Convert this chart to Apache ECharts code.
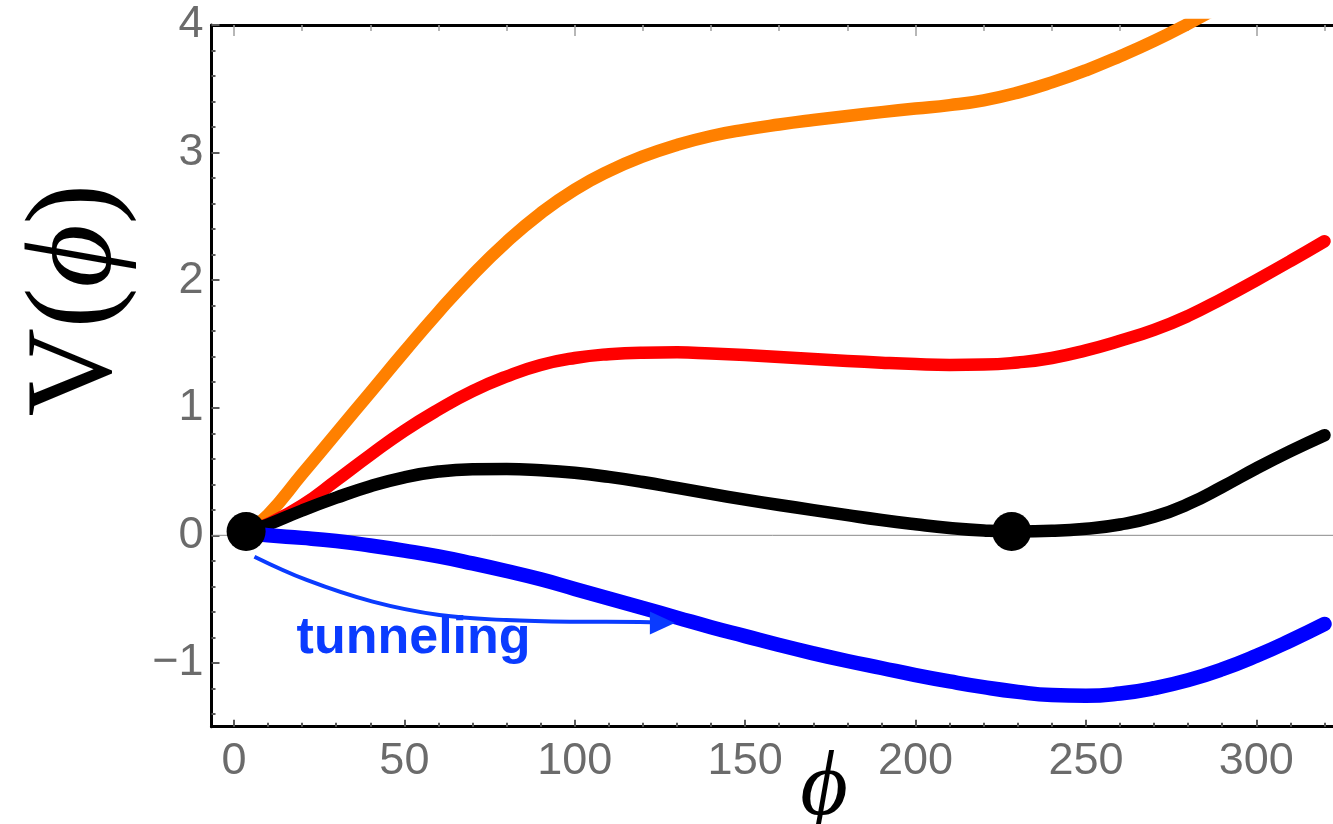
<!DOCTYPE html>
<html>
<head>
<meta charset="utf-8">
<script src="https://cdn.jsdelivr.net/npm/echarts@6/dist/echarts.min.js"></script>
<style>
  html, body { margin: 0; padding: 0; background: #ffffff; }
  #chart { width: 1333px; height: 824px; }
</style>
</head>
<body>
<div id="chart"></div>
<script>
// Potential V(phi) for four parameter choices, sampled every 10 units of phi
const phiGrid = [4, 10, 20, 30, 40, 50, 60, 70, 80, 90, 100, 110, 120, 130, 140, 150, 160, 170, 180, 190, 200, 210, 220, 230, 240, 250, 260, 270, 280, 290, 300, 310, 320];

const orangeV = [0.03, 0.16, 0.48, 0.80, 1.12, 1.44, 1.75, 2.04, 2.30, 2.525, 2.71, 2.855, 2.97, 3.06, 3.13, 3.18, 3.22, 3.255, 3.287, 3.317, 3.345, 3.372, 3.41, 3.47, 3.55, 3.645, 3.755, 3.875, 4.01, 4.155, 4.30];

const redV = [0.03, 0.09, 0.235, 0.43, 0.63, 0.82, 0.985, 1.13, 1.245, 1.335, 1.39, 1.42, 1.432, 1.434, 1.425, 1.413, 1.398, 1.382, 1.367, 1.353, 1.342, 1.336, 1.338, 1.355, 1.39, 1.45, 1.525, 1.61, 1.72, 1.855, 2.00, 2.15, 2.305];

const blackV = [0.03, 0.085, 0.195, 0.295, 0.385, 0.455, 0.50, 0.518, 0.52, 0.51, 0.49, 0.458, 0.418, 0.372, 0.325, 0.28, 0.238, 0.198, 0.158, 0.12, 0.087, 0.058, 0.038, 0.03, 0.035, 0.052, 0.085, 0.145, 0.245, 0.38, 0.525, 0.66, 0.785];

const blueV = [0.02, 0.0, -0.02, -0.045, -0.08, -0.12, -0.165, -0.22, -0.28, -0.345, -0.42, -0.495, -0.57, -0.645, -0.72, -0.79, -0.86, -0.925, -0.985, -1.04, -1.095, -1.145, -1.19, -1.227, -1.252, -1.258, -1.24, -1.198, -1.135, -1.05, -0.945, -0.825, -0.695];

// Vacuum markers (false and true minimum)
const vacuumPhi = [3.55, 228.2];
const vacuumV   = [0.03, 0.03];

// Tunneling arrow path and head
const arrowPhi = [6.0, 21.3, 40.7, 60.3, 79.9, 99.4, 119.1, 125.7];
const arrowV   = [-0.168, -0.350, -0.520, -0.625, -0.664, -0.677, -0.679, -0.688];
const arrowHead = [125.7, -0.688];
const annotationText = 'tunneling';
const annotationAt = [52.7, -0.81];

// Axes
const X_MIN = -6.6, X_MAX = 322.5;
const Y_MIN = -1.5, Y_MAX = 4;
const xMajorTicks = [0, 50, 100, 150, 200, 250, 300];
const xMinorTicks = [0, 10, 20, 30, 40, 50, 60, 70, 80, 90, 100, 110, 120, 130, 140, 150, 160, 170, 180, 190, 200, 210, 220, 230, 240, 250, 260, 270, 280, 290, 300, 310, 320];
const topMajorTicks = [0, 100, 200, 300];
const topMinorTicks = [0, 20, 40, 60, 80, 100, 120, 140, 160, 180, 200, 220, 240, 260, 280, 300, 320];
const yMajorTicks = [-1, 0, 1, 2, 3, 4];
const yMinorTicks = [-1.4, -1.2, -1, -0.8, -0.6, -0.4, -0.2, 0, 0.2, 0.4, 0.6, 0.8, 1, 1.2, 1.4, 1.6, 1.8, 2, 2.2, 2.4, 2.6, 2.8, 3, 3.2, 3.4, 3.6, 3.8, 4];

const zip = (xs, ys) => ys.map((y, i) => [xs[i], y]);

const LABEL_FONT = '"Liberation Sans", Arial, Helvetica, sans-serif';
const SERIF_FONT = '"Liberation Serif", "DejaVu Serif", "Times New Roman", serif';
const TICK_COLOR = '#5a5a5a';
const LABEL_COLOR = '#6b6b6b';
const ANNOT_BLUE = '#0a3bff';

function valueAxis(extra) {
  const base = {
    type: 'value',
    gridIndex: 0,
    splitLine: { show: false },
    axisLine: { show: false, onZero: false },
    axisTick: { show: false },
    axisLabel: { show: false }
  };
  return Object.assign(base, extra);
}

const fmt = v => (v < 0 ? '\u2212' + Math.abs(v) : String(v));

function curve(name, values, color, width) {
  return {
    name: name, type: 'line', z: 2, symbol: 'none', smooth: 0.5, clip: true,
    data: zip(phiGrid, values),
    lineStyle: { color: color, width: width, cap: 'round', join: 'round', opacity: 1 }
  };
}

const chart = echarts.init(document.getElementById('chart'), null, { renderer: 'canvas' });

chart.setOption({
  animation: false,
  backgroundColor: '#ffffff',
  grid: { left: 211.5, right: 0, top: 25, bottom: 97.3, containLabel: false },
  xAxis: [
    valueAxis({
      position: 'bottom', min: X_MIN, max: X_MAX,
      axisLine: { show: true, onZero: false, lineStyle: { color: '#000', width: 3 } },
      axisTick: { show: true, inside: true, length: 7, customValues: xMajorTicks, lineStyle: { color: TICK_COLOR, width: 2 } },
      axisLabel: { show: true, customValues: xMajorTicks, formatter: fmt, color: LABEL_COLOR, fontSize: 45, fontFamily: LABEL_FONT, margin: 12 }
    }),
    valueAxis({
      position: 'bottom', min: X_MIN, max: X_MAX,
      axisTick: { show: true, inside: true, length: 4, customValues: xMinorTicks, lineStyle: { color: TICK_COLOR, width: 2 } }
    }),
    valueAxis({
      position: 'top', min: X_MIN, max: X_MAX,
      axisLine: { show: true, onZero: false, lineStyle: { color: '#000', width: 3 } },
      axisTick: { show: true, inside: true, length: 11, customValues: topMajorTicks, lineStyle: { color: '#a0a0a0', width: 1.5 } }
    }),
    valueAxis({
      position: 'top', min: X_MIN, max: X_MAX,
      axisTick: { show: true, inside: true, length: 6, customValues: topMinorTicks, lineStyle: { color: '#a0a0a0', width: 1.5 } }
    })
  ],
  yAxis: [
    valueAxis({
      position: 'left', min: Y_MIN, max: Y_MAX,
      axisLine: { show: true, onZero: false, lineStyle: { color: '#000', width: 3 } },
      axisTick: { show: true, inside: true, length: 8, customValues: yMajorTicks, lineStyle: { color: TICK_COLOR, width: 2 } },
      axisLabel: { show: true, customValues: yMajorTicks, formatter: fmt, color: LABEL_COLOR, fontSize: 45, fontFamily: LABEL_FONT, margin: 8 }
    }),
    valueAxis({
      position: 'left', min: Y_MIN, max: Y_MAX,
      axisTick: { show: true, inside: true, length: 4, customValues: yMinorTicks, lineStyle: { color: TICK_COLOR, width: 2 } }
    })
  ],
  series: [
    {
      name: 'zero', type: 'line', z: 1, symbol: 'none', silent: true,
      data: [[X_MIN, 0], [X_MAX, 0]],
      lineStyle: { color: '#8a8a8a', width: 1 }
    },
    curve('orange', orangeV, '#ff8000', 12.5),
    curve('red', redV, '#ff0000', 12.5),
    curve('black', blackV, '#000000', 12.5),
    curve('blue', blueV, '#0000ff', 14.5),
    {
      name: 'tunnelPath', type: 'line', z: 3, symbol: 'none', smooth: 0.4,
      data: zip(arrowPhi, arrowV),
      lineStyle: { color: ANNOT_BLUE, width: 4, opacity: 1 }
    },
    {
      name: 'tunnelHead', type: 'scatter', z: 3,
      data: [arrowHead],
      symbol: 'triangle', symbolSize: [23, 25], symbolRotate: -90,
      itemStyle: { color: ANNOT_BLUE, opacity: 1 }
    },
    {
      name: 'tunnelLabel', type: 'scatter', z: 3,
      data: [annotationAt], symbolSize: 0,
      itemStyle: { opacity: 1 },
      label: {
        show: true, position: 'inside', formatter: annotationText,
        color: ANNOT_BLUE, fontSize: 52, fontWeight: 'bold', fontFamily: LABEL_FONT
      }
    },
    {
      name: 'vacua', type: 'scatter', z: 5,
      data: zip(vacuumPhi, vacuumV),
      symbol: 'circle', symbolSize: 39,
      itemStyle: { color: '#000000', opacity: 1 }
    }
  ],
  graphic: [
    {
      type: 'text', x: 78, y: 300, rotation: Math.PI / 2,
      style: {
        text: '{v|V}{p|(}{i|\u03D5}{p|)}',
        align: 'center', verticalAlign: 'middle',
        rich: {
          v: { fontFamily: SERIF_FONT, fontSize: 122, fill: '#000' },
          p: { fontFamily: SERIF_FONT, fontSize: 122, fill: '#000' },
          i: { fontFamily: SERIF_FONT, fontSize: 122, fontStyle: 'italic', fill: '#000' }
        }
      }
    },
    {
      type: 'text', x: 824, y: 790,
      style: {
        text: '\u03D5', align: 'center', verticalAlign: 'middle',
        fontFamily: SERIF_FONT, fontSize: 92, fontStyle: 'italic', fill: '#000'
      }
    }
  ]
});
</script>
</body>
</html>
